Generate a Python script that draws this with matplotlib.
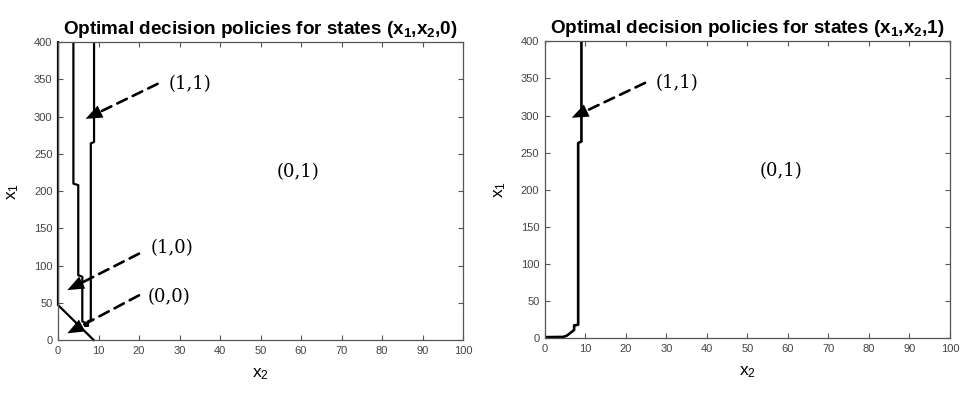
import matplotlib
matplotlib.use("Agg")
import matplotlib.pyplot as plt

plt.rcParams['font.family'] = ['Liberation Sans', 'DejaVu Sans']
plt.rcParams['mathtext.default'] = 'regular'

# ---- data ----
x_ticks = list(range(0, 101, 10))
y_ticks = list(range(0, 401, 50))

# left panel: boundaries for states (x1, x2, 0)
left_a_x = [0, 0, 8.8]
left_a_y = [400, 47, 0]
left_b_x = [3.8, 3.8, 5.0, 5.0, 6.0, 6.0, 6.8, 6.8]
left_b_y = [400, 210, 208, 87, 85, 25, 23, 19]
left_c_x = [8.9, 8.9, 8.1, 8.1, 7.4, 7.4, 6.8]
left_c_y = [400, 266, 264, 27, 25, 19, 19]

# right panel: boundary for states (x1, x2, 1)
right_x = [9.0, 9.0, 8.2, 8.2, 7.2, 7.2, 6.2, 5.3, 4.5, 0]
right_y = [400, 265, 263, 18, 17, 11, 6.5, 3, 1.5, 1.2]

# annotations: label, label position, arrow tail, arrow tip
left_labels = ["(1,1)", "(1,0)", "(0,0)"]
left_label_pos = [(32.5, 344), (28.1, 123), (27.5, 58)]
left_tails = [(24.6, 344), (20.0, 116), (20.0, 60)]
left_tips = [(6.8, 297), (2.3, 67), (2.3, 9)]
right_labels = ["(1,1)"]
right_label_pos = [(32.5, 344)]
right_tails = [(24.7, 344)]
right_tips = [(6.6, 297)]
region_label = "(0,1)"
left_region_pos = (59.3, 225)
right_region_pos = (58.3, 225)

titles = [r"Optimal decision policies for states (x$_1$,x$_2$,0)",
          r"Optimal decision policies for states (x$_1$,x$_2$,1)"]

fig = plt.figure(figsize=(9.62, 3.94), dpi=100)
ax1 = fig.add_axes([0.0603, 0.137, 0.421, 0.756])
ax2 = fig.add_axes([0.5665, 0.142, 0.421, 0.753])

def style(ax, title):
    ax.set_xlim(0, 100)
    ax.set_ylim(0, 400)
    ax.set_xticks(x_ticks)
    ax.set_yticks(y_ticks)
    ax.tick_params(direction='in', top=True, right=True, length=3.5, width=0.8,
                   labelsize=8, labelcolor='#444444', color='#555555', pad=4)
    for s in ax.spines.values():
        s.set_color('#555555')
        s.set_linewidth(0.9)
    ax.set_xlabel(r"x$_2$", fontsize=12.5, labelpad=8)
    ax.set_ylabel(r"x$_1$", fontsize=12.5, labelpad=9)
    ax.set_title(title, fontsize=13.6, fontweight='bold', pad=6)

def arrow(ax, tail, tip):
    # dashed shaft
    ax.annotate("", xy=tip, xytext=tail,
                arrowprops=dict(arrowstyle='-', color='k', lw=1.9,
                                linestyle=(0, (4, 2.5)),
                                shrinkA=0, shrinkB=7))
    # solid filled head
    ax.annotate("", xy=tip, xytext=tail,
                arrowprops=dict(arrowstyle='-|>,head_length=1.0,head_width=0.4',
                                color='k', lw=0, mutation_scale=12,
                                shrinkA=0, shrinkB=0))

lw = 1.6
ax1.plot(left_a_x, left_a_y, color='k', lw=lw, clip_on=False, solid_joinstyle='miter')
ax1.plot(left_b_x, left_b_y, color='k', lw=lw)
ax1.plot(left_c_x, left_c_y, color='k', lw=lw)
for lab, pos, tail, tip in zip(left_labels, left_label_pos, left_tails, left_tips):
    arrow(ax1, tail, tip)
    ax1.text(pos[0], pos[1], lab, family='DejaVu Serif', fontsize=13,
             ha='center', va='center')
ax1.text(left_region_pos[0], left_region_pos[1], region_label,
         family='DejaVu Serif', fontsize=13, ha='center', va='center')
style(ax1, titles[0])

ax2.plot(right_x, right_y, color='k', lw=lw + 0.3)
for lab, pos, tail, tip in zip(right_labels, right_label_pos, right_tails, right_tips):
    arrow(ax2, tail, tip)
    ax2.text(pos[0], pos[1], lab, family='DejaVu Serif', fontsize=13,
             ha='center', va='center')
ax2.text(right_region_pos[0], right_region_pos[1], region_label,
         family='DejaVu Serif', fontsize=13, ha='center', va='center')
style(ax2, titles[1])

fig.savefig("out.png", dpi=100)
